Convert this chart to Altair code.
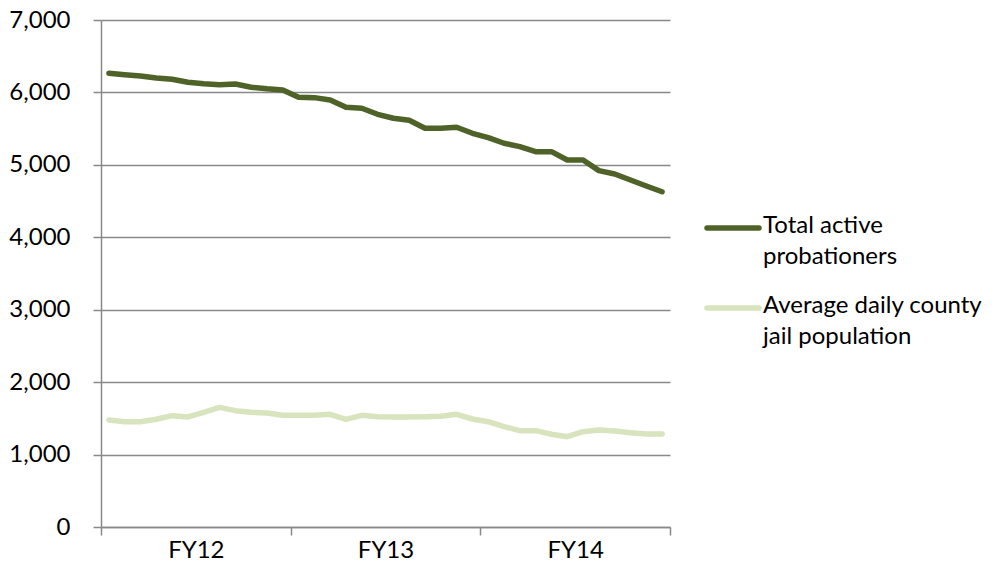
import altair as alt
import pandas as pd

# Fiscal years shown on the category axis; each holds twelve monthly readings
fiscal_years = ["FY12", "FY13", "FY14"]
months_per_year = 12

series_names = ["Total active probationers", "Average daily county jail population"]
legend_labels = ["Total active\nprobationers", "Average daily county\njail population"]
series_colors = ["#4f6228", "#d7e4bd"]

# Monthly counts, July 2011 through June 2014
probationers = [6264, 6245, 6227, 6200, 6181, 6140, 6120, 6107, 6116, 6071, 6050, 6034,
                5933, 5928, 5896, 5795, 5781, 5698, 5643, 5615, 5505, 5505, 5519, 5436,
                5376, 5298, 5251, 5182, 5182, 5067, 5067, 4920, 4874, 4791, 4708, 4629]
jail_population = [1477, 1454, 1454, 1487, 1537, 1519, 1583, 1652, 1606, 1583, 1574, 1542,
                   1542, 1542, 1556, 1487, 1542, 1523, 1519, 1519, 1523, 1530, 1556, 1491,
                   1454, 1385, 1330, 1330, 1280, 1247, 1316, 1339, 1325, 1302, 1284, 1284]

y_ticks = list(range(0, 7001, 1000))

rows = []
for name, values in zip(series_names, [probationers, jail_population]):
    for i, v in enumerate(values):
        rows.append({"month": i, "series": name, "value": v})
df = pd.DataFrame(rows)

legend_df = pd.DataFrame({"series": series_names, "label": legend_labels})

n_months = months_per_year * len(fiscal_years)
axis_values = list(range(0, n_months + 1, months_per_year // 2))
fy_list = "[" + ",".join(f"'{fy}'" for fy in fiscal_years) + "]"
label_expr = (f"datum.value % {months_per_year} == {months_per_year // 2} ? "
              f"{fy_list}[floor(datum.value / {months_per_year})] : ''")

GRID = "#898989"
FONT = "Lato"

color = alt.Color("series:N",
                  scale=alt.Scale(domain=series_names, range=series_colors),
                  legend=None)

lines = alt.Chart(df).transform_calculate(
    pos="datum.month + 0.5"
).mark_line(strokeWidth=5.5, strokeCap="round", strokeJoin="round").encode(
    x=alt.X("pos:Q",
            scale=alt.Scale(domain=[0, n_months], nice=False, zero=False),
            axis=alt.Axis(values=axis_values, labelExpr=label_expr, title=None,
                          grid=False, domainColor=GRID, domainWidth=1.5,
                          tickColor=GRID, tickWidth=1.5, tickSize=8,
                          tickOpacity={"condition": {"test": f"datum.value % {months_per_year} == 0",
                                                     "value": 1}, "value": 0},
                          labelFont=FONT, labelFontSize=24, labelColor="#000000",
                          labelPadding=3, labelBaseline="top")),
    y=alt.Y("value:Q",
            scale=alt.Scale(domain=[0, 7000], nice=False),
            axis=alt.Axis(values=y_ticks, format=",d", title=None,
                          grid=True, gridColor=GRID, gridWidth=1.5,
                          domainColor=GRID, domainWidth=1.5,
                          tickColor=GRID, tickWidth=1.5, tickSize=8,
                          labelFont=FONT, labelFontSize=24, labelColor="#000000",
                          labelPadding=23)),
    color=color,
    detail="series:N",
)

legend_y = alt.Y("series:N",
                 scale=alt.Scale(type="point", domain=series_names, range=[208, 288], padding=0),
                 axis=None)

legend_rules = alt.Chart(legend_df).mark_rule(strokeWidth=5.5, strokeCap="round").encode(
    x=alt.value(606), x2=alt.value(658), y=legend_y, color=color,
)

# Multi-line labels: first line sits level with its swatch
legend_text = alt.Chart(legend_df).mark_text(
    align="left", baseline="top", dy=-14, lineBreak="\n", lineHeight=31,
    font=FONT, fontSize=24, color="#000000",
).encode(
    x=alt.value(662), y=legend_y, text="label:N",
)

chart = alt.layer(lines, legend_rules, legend_text).resolve_scale(
    y="independent"
).properties(
    width=569, height=507,
    autosize=alt.AutoSizeParams(type="none"),
    padding={"left": 101, "top": 20, "right": 324, "bottom": 40},
    background="white",
).configure_view(stroke=None)

chart.save("out.html", embed_options={"renderer": "svg", "actions": False})
